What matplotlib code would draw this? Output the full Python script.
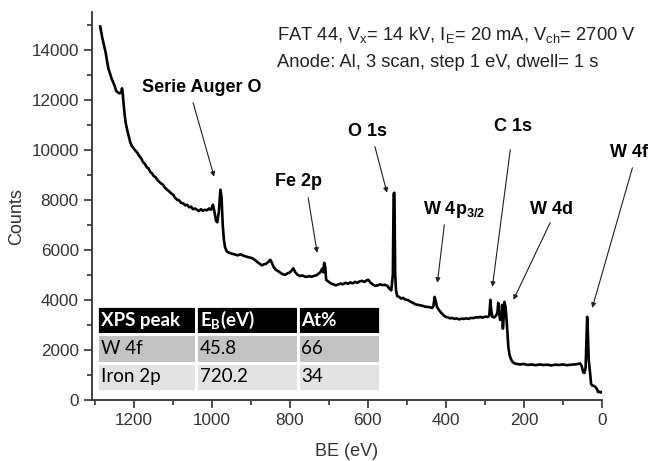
import numpy as np
import matplotlib.pyplot as plt
from matplotlib.ticker import MultipleLocator

plt.rcParams['mathtext.fontset'] = 'custom'
plt.rcParams['mathtext.rm'] = 'Liberation Sans'
plt.rcParams['mathtext.bf'] = 'Liberation Sans:bold'
plt.rcParams['mathtext.sf'] = 'Lato:bold'

# survey spectrum (BE in eV, counts)
be = [1286, 1281, 1276, 1272, 1268, 1265, 1261, 1257, 1253, 1249, 1245, 1240, 1236, 1232, 1230, 1228, 1227,
      1224, 1221, 1217, 1213, 1209, 1205, 1200, 1195, 1191, 1186, 1181, 1176, 1171, 1167, 1162, 1158, 1153,
      1149, 1144, 1140, 1135, 1130, 1125, 1120, 1114, 1109, 1104, 1099, 1094, 1089, 1084, 1079, 1073, 1068,
      1063, 1058, 1053, 1048, 1043, 1038, 1033, 1028, 1023, 1018, 1012, 1007, 1002, 997, 993, 989, 986, 982,
      978, 975, 972, 969, 966, 962, 958, 950, 942, 934, 926, 918, 910, 902, 896, 890, 884, 878, 872, 866,
      860, 855, 850, 846, 841, 836, 830, 824, 818, 812, 806, 800, 795, 791, 786, 780, 774, 768, 762, 756,
      750, 744, 738, 732, 727, 722, 717, 714, 712, 709, 707, 700, 694, 688, 682, 676, 670, 664, 658, 651,
      645, 639, 633, 627, 621, 615, 609, 603, 599, 594, 588, 581, 575, 569, 563, 556, 550, 545, 540, 536,
      534, 532, 530, 528, 525, 520, 515, 510, 505, 500, 496, 490, 484, 478, 471, 465, 459, 452, 446, 440,
      435, 432, 429, 426, 423, 418, 412, 407, 401, 395, 389, 384, 378, 372, 366, 360, 354, 348, 342, 336,
      330, 324, 318, 312, 306, 300, 294, 289, 286, 284, 281, 276, 271, 268, 266, 264, 261, 258, 256, 254,
      252, 250, 247, 244, 240, 237, 233, 229, 225, 218, 210, 200, 190, 180, 170, 160, 150, 140, 130, 120,
      110, 100, 90, 80, 70, 62, 56, 52, 48, 45, 42, 40, 38, 36, 34, 32, 30, 28, 25, 20, 17, 13, 10, 6, 3, 0]
counts = [14920, 14500, 14150, 13880, 13500, 13250, 13050, 12850, 12700, 12550, 12350, 12280, 12250, 12300,
          12450, 12200, 12000, 11500, 11100, 10800, 10550, 10300, 10150, 10050, 9950, 9880, 9750, 9650, 9500,
          9420, 9300, 9250, 9120, 9050, 8950, 8900, 8800, 8720, 8650, 8600, 8480, 8400, 8330, 8250, 8200, 8080,
          8000, 7980, 7880, 7850, 7780, 7800, 7700, 7720, 7620, 7650, 7600, 7550, 7620, 7560, 7600, 7580, 7650,
          7600, 7800, 7500, 7150, 7100, 7500, 8400, 8100, 7000, 6400, 6100, 5950, 5900, 5850, 5820, 5780, 5820,
          5760, 5720, 5690, 5660, 5600, 5520, 5450, 5380, 5420, 5450, 5520, 5600, 5480, 5300, 5200, 5150, 5080,
          5020, 5000, 5060, 5100, 5180, 5260, 5100, 5000, 4950, 4980, 4930, 4920, 4950, 4920, 4960, 4980, 5040,
          5100, 5250, 5100, 5480, 5300, 4800, 4720, 4650, 4620, 4580, 4620, 4650, 4620, 4680, 4640, 4700, 4660,
          4720, 4680, 4740, 4760, 4720, 4780, 4800, 4700, 4620, 4560, 4580, 4620, 4590, 4600, 4560, 4450, 4380,
          5000, 8250, 8280, 5000, 4400, 4150, 4120, 4050, 4080, 4020, 4000, 3980, 3920, 3880, 3820, 3800, 3780,
          3760, 3720, 3720, 3700, 3680, 3750, 4120, 3950, 3720, 3600, 3480, 3400, 3320, 3300, 3260, 3280, 3240,
          3260, 3220, 3250, 3240, 3260, 3240, 3280, 3270, 3300, 3300, 3320, 3290, 3330, 3320, 3350, 4000, 3600,
          3320, 3300, 3380, 3500, 3880, 3500, 3200, 3300, 3800, 2850, 3300, 3920, 3700, 3080, 2120, 1800, 1620,
          1520, 1470, 1440, 1420, 1440, 1400, 1420, 1390, 1420, 1400, 1410, 1380, 1410, 1400, 1420, 1390, 1410,
          1420, 1440, 1460, 1350, 1100, 1080, 1300, 2300, 3320, 2600, 1600, 1320, 1000, 640, 580, 560, 520, 440,
          320, 330, 300, 320]

# peak labels with text position, arrow start and arrow tip (BE, counts)
peak_labels = ['Serie Auger O', 'Fe 2p', 'O 1s', r'W 4p$_{\mathbf{3/2}}$', 'C 1s', 'W 4d', 'W 4f']
label_xy = [(1027, 12480), (778, 8720), (602, 10720), (378, 7600), (227, 10920), (130, 7600), (-70, 9880)]
arrow_from = [(1048, 11880), (753, 8080), (582, 10120), (404, 7000), (235, 10000), (133, 7080), (-78, 9280)]
arrow_to = [(994, 8920), (730, 5880), (551, 8280), (422, 4680), (281, 4520), (227, 4000), (25, 3680)]

table_header = ['XPS peak', r'E$_{\mathsf{B}}$(eV)', 'At%']
table_rows = [['W 4f', '45.8', '66'],
              ['Iron 2p', '720.2', '34']]

fig = plt.figure(figsize=(6.54, 4.61), dpi=100)
ax = fig.add_axes([92 / 654, 61 / 461, 510 / 654, 388 / 461])

ax.plot(be, counts, color='black', lw=1.9)

ax.set_xlim(1307, 0)
ax.set_ylim(0, 15500)
ax.xaxis.set_major_locator(MultipleLocator(200))
ax.xaxis.set_minor_locator(MultipleLocator(100))
ax.yaxis.set_major_locator(MultipleLocator(2000))
ax.yaxis.set_minor_locator(MultipleLocator(1000))

axis_col = '#333333'
for s in ['top', 'right']:
    ax.spines[s].set_visible(False)
for s in ['left', 'bottom']:
    ax.spines[s].set_color(axis_col)
    ax.spines[s].set_linewidth(1.3)
ax.tick_params(which='both', direction='out', color=axis_col, width=1.2)
ax.tick_params(which='major', length=6, labelsize=12.3, labelcolor=axis_col)
ax.tick_params(which='minor', length=3.5)
for lab in ax.get_xticklabels() + ax.get_yticklabels():
    lab.set_fontfamily('Liberation Sans')

ax.set_xlabel('BE (eV)', fontsize=13, family='Liberation Sans', color=axis_col, labelpad=11)
ax.set_ylabel('Counts', fontsize=13, family='Liberation Sans', color=axis_col)
ax.yaxis.set_label_coords(-0.131, 0.472)

# peak annotations
for txt, (tx, ty), (ax0, ay0), (ax1, ay1) in zip(peak_labels, label_xy, arrow_from, arrow_to):
    ax.text(tx, ty, txt, fontsize=13, fontweight='bold', family='Liberation Sans',
            ha='center', va='center', clip_on=False)
    ax.annotate('', xy=(ax1, ay1), xytext=(ax0, ay0),
                arrowprops=dict(arrowstyle='-|>', lw=0.8, color='#222222', mutation_scale=7,
                                shrinkA=0, shrinkB=0))

# acquisition conditions
ax.text(0.363, 0.941, r'FAT 44, V$_{\mathrm{x}}$= 14 kV, I$_{\mathrm{E}}$= 20 mA, V$_{\mathrm{ch}}$= 2700 V',
        transform=ax.transAxes, fontsize=13.2, family='Liberation Sans', va='center', color='#222222')
ax.text(0.363, 0.871, 'Anode: Al, 3 scan, step 1 eV, dwell= 1 s',
        transform=ax.transAxes, fontsize=13.2, family='Liberation Sans', va='center', color='#222222')

# quantification table
tab = ax.table(cellText=[table_header] + table_rows, cellLoc='left',
               colWidths=[0.35, 0.36, 0.29],
               bbox=[5 / 510, 9 / 388, 283 / 510, 85 / 388])
tab.auto_set_font_size(False)
row_cols = ['black', '#c3c3c3', '#e3e3e3']
for (r, c), cell in tab.get_celld().items():
    cell.set_facecolor(row_cols[r])
    cell.set_edgecolor('white')
    cell.set_linewidth(2)
    cell.PAD = 0.04
    t = cell.get_text()
    t.set_fontfamily('Lato')
    t.set_fontsize(13.5)
    if r == 0:
        t.set_color('white')
        t.set_fontweight('bold')
    else:
        t.set_color('black')

fig.savefig('out.png', dpi=100)
